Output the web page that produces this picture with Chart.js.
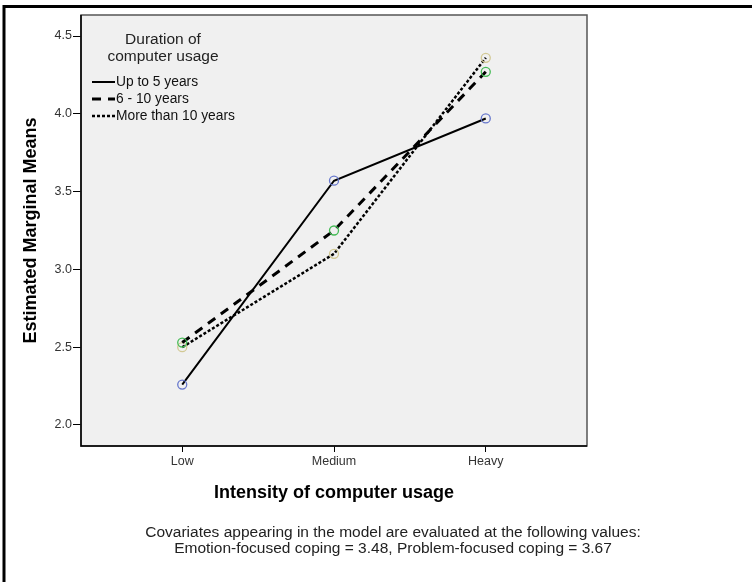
<!DOCTYPE html>
<html>
<head>
<meta charset="utf-8">
<script src="https://cdn.jsdelivr.net/npm/chart.js@4"></script>
<style>
  html, body { margin: 0; padding: 0; background: #fff; }
  #wrap { width: 752px; height: 582px; position: relative; }
</style>
</head>
<body>
<div id="wrap"><canvas id="plot"></canvas></div>
<script>
// data
const categories = ['Low', 'Medium', 'Heavy'];
const seriesNames = ['Up to 5 years', '6 - 10 years', 'More than 10 years'];
const upTo5 = [2.26, 3.57, 3.97];
const sixTo10 = [2.53, 3.25, 4.27];
const over10 = [2.50, 3.10, 4.36];
const yTicks = [2.0, 2.5, 3.0, 3.5, 4.0, 4.5];

const lineDashes = [[], [9, 7], [3, 2]];
const lineWidths = [2, 3, 2.5];
const markerColors = ['#6677cc', '#44bb55', '#d2c994'];
const font = '"Liberation Sans", Arial, sans-serif';

function toPoints(arr) {
  return arr.map((v, i) => ({ x: i, y: v }));
}

const datasets = [upTo5, sixTo10, over10].map((vals, i) => ({
  label: seriesNames[i],
  data: toPoints(vals),
  borderColor: '#000',
  borderWidth: lineWidths[i],
  borderDash: lineDashes[i],
  pointRadius: 4.5,
  pointBorderWidth: 1.3,
  pointBorderColor: markerColors[i],
  pointBackgroundColor: 'rgba(0,0,0,0)',
  tension: 0
}));

// frame, plot background, titles, legend and footnote
const decor = {
  id: 'decor',
  beforeDraw(chart) {
    const { ctx, chartArea: a } = chart;
    ctx.save();
    ctx.fillStyle = '#f0f0f0';
    ctx.fillRect(a.left, a.top, a.right - a.left, a.bottom - a.top);
    ctx.restore();
  },
  afterDraw(chart) {
    const { ctx, chartArea: a } = chart;
    ctx.save();
    // plot border
    ctx.strokeStyle = '#555';
    ctx.lineWidth = 1.5;
    ctx.strokeRect(a.left, a.top, a.right - a.left, a.bottom - a.top);
    ctx.strokeStyle = '#000';
    ctx.beginPath();
    ctx.moveTo(a.left, a.top); ctx.lineTo(a.left, a.bottom); ctx.lineTo(a.right, a.bottom);
    ctx.stroke();

    // outer frame (top and left edges only show)
    ctx.lineWidth = 3;
    ctx.beginPath();
    ctx.moveTo(4, 582); ctx.lineTo(4, 6.5); ctx.lineTo(752, 6.5);
    ctx.stroke();

    // axis titles
    ctx.fillStyle = '#000';
    ctx.textAlign = 'center';
    ctx.textBaseline = 'middle';
    ctx.font = 'bold 18px ' + font;
    ctx.fillText('Intensity of computer usage', (a.left + a.right) / 2, 493);
    ctx.save();
    ctx.translate(31, (a.top + a.bottom) / 2);
    ctx.rotate(-Math.PI / 2);
    ctx.fillText('Estimated Marginal Means', 0, 0);
    ctx.restore();

    // footnote
    ctx.fillStyle = '#222';
    ctx.font = '15.5px ' + font;
    ctx.fillText('Covariates appearing in the model are evaluated at the following values:', 393, 533);
    ctx.fillText('Emotion-focused coping = 3.48, Problem-focused coping = 3.67', 393, 549);

    // legend inside plot
    ctx.font = '15.5px ' + font;
    ctx.fillText('Duration of', 163, 40);
    ctx.fillText('computer usage', 163, 57);
    ctx.font = '13.8px ' + font;
    ctx.textAlign = 'left';
    seriesNames.forEach((name, i) => {
      const y = 82 + i * 17;
      ctx.strokeStyle = '#000';
      ctx.lineWidth = lineWidths[i];
      ctx.setLineDash(lineDashes[i]);
      ctx.beginPath();
      ctx.moveTo(92, y); ctx.lineTo(115, y);
      ctx.stroke();
      ctx.setLineDash([]);
      ctx.fillStyle = '#111';
      ctx.fillText(name, 116, y);
    });
    ctx.restore();
  }
};

new Chart(document.getElementById('plot'), {
  type: 'line',
  data: { datasets },
  options: {
    responsive: true,
    maintainAspectRatio: false,
    animation: false,
    layout: { padding: { left: 0, top: 15, right: 165, bottom: 106 } },
    plugins: { legend: { display: false }, tooltip: { enabled: false } },
    scales: {
      x: {
        type: 'linear',
        min: -0.667,
        max: 2.667,
        afterBuildTicks: (s) => { s.ticks = categories.map((c, i) => ({ value: i })); },
        afterFit: (s) => { s.height = 30; },
        ticks: {
          callback: (v) => categories[v],
          font: { family: font, size: 12.5 },
          color: '#333',
          padding: 2,
          maxRotation: 0
        },
        grid: { drawOnChartArea: false, drawTicks: true, tickLength: 6, tickColor: '#000' },
        border: { display: false }
      },
      y: {
        type: 'linear',
        min: 1.865,
        max: 4.635,
        afterBuildTicks: (s) => { s.ticks = yTicks.map(v => ({ value: v })); },
        afterFit: (s) => { s.width = 81; },
        ticks: {
          callback: (v) => v.toFixed(1),
          font: { family: font, size: 12.5 },
          color: '#333',
          padding: 1
        },
        grid: { drawOnChartArea: false, drawTicks: true, tickLength: 8, tickColor: '#000' },
        border: { display: false }
      }
    }
  },
  plugins: [decor]
});
</script>
</body>
</html>
